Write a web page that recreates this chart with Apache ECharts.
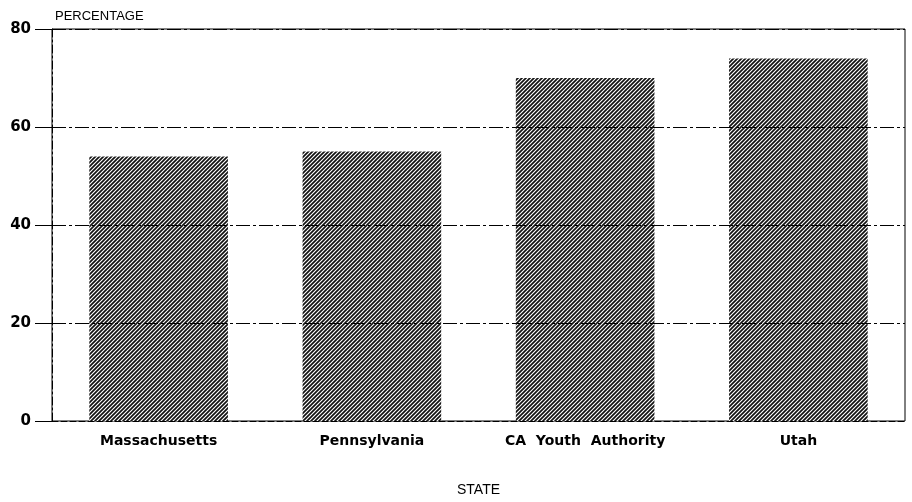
<!DOCTYPE html>
<html>
<head>
<meta charset="utf-8">
<script src="https://cdn.jsdelivr.net/npm/echarts@6/dist/echarts.min.js"></script>
<style>
  html, body { margin: 0; padding: 0; background: #fff; }
  #chart { width: 912px; height: 502px; }
</style>
</head>
<body>
<div id="chart"></div>
<script>
// data
const states = ['Massachusetts', 'Pennsylvania', 'CA  Youth  Authority', 'Utah'];
const percentages = [54, 55, 70, 74];
const yTicks = [0, 20, 40, 60, 80];

// diagonal hatch fill
const makeHatch = () => {
  const c = document.createElement('canvas');
  c.width = 4;
  c.height = 4;
  const ctx = c.getContext('2d');
  ctx.fillStyle = '#ffffff';
  ctx.fillRect(0, 0, 4, 4);
  ctx.strokeStyle = '#111';
  ctx.lineWidth = 1.7;
  ctx.beginPath();
  ctx.moveTo(-1, 5); ctx.lineTo(5, -1);
  ctx.moveTo(-1, 1); ctx.lineTo(1, -1);
  ctx.moveTo(3, 5); ctx.lineTo(5, 3);
  ctx.stroke();
  return c;
};

const chart = echarts.init(document.getElementById('chart'));
const font = { fontFamily: 'DejaVu Sans, sans-serif', fontWeight: 'bold', color: '#000' };
const gridType = [14, 3, 3, 3];

chart.setOption({
  animation: false,
  grid: {
    left: 52, right: 7, top: 29, bottom: 80,
    show: true, borderColor: '#000', borderWidth: 1
  },
  title: {
    text: 'PERCENTAGE', left: 50, top: 5,
    textStyle: { fontFamily: 'Liberation Sans, Arial, sans-serif', color: '#000', fontSize: 13, fontWeight: 'normal' }
  },
  xAxis: {
    type: 'category',
    data: states,
    name: 'STATE',
    nameLocation: 'middle',
    nameGap: 62,
    nameTextStyle: { fontFamily: 'Liberation Sans, Arial, sans-serif', color: '#000', fontSize: 14, fontWeight: 'normal' },
    axisLine: { lineStyle: { color: '#000', type: [6, 3] } },
    axisTick: { show: true, alignWithLabel: true, inside: true, length: 6, lineStyle: { color: '#000' } },
    axisLabel: { ...font, fontSize: 14, margin: 13, interval: 0 }
  },
  yAxis: {
    type: 'value',
    min: yTicks[0],
    max: yTicks[yTicks.length - 1],
    interval: 20,
    axisLine: { show: true, lineStyle: { color: '#000', type: [8, 3, 2, 3] } },
    axisTick: { show: true, length: 17, lineStyle: { color: '#000' } },
    axisLabel: { ...font, fontSize: 15, margin: 21 },
    splitLine: { show: false }
  },
  series: [{
    type: 'bar',
    data: percentages,
    barWidth: '65%',
    itemStyle: { color: { image: makeHatch(), repeat: 'repeat' } },
    // gridlines drawn over the bars, as in the original
    markLine: {
      silent: true,
      symbol: 'none',
      label: { show: false },
      lineStyle: { color: '#000', width: 1, type: gridType },
      data: yTicks.slice(1).map(v => ({ yAxis: v }))
    }
  }]
});
</script>
</body>
</html>
